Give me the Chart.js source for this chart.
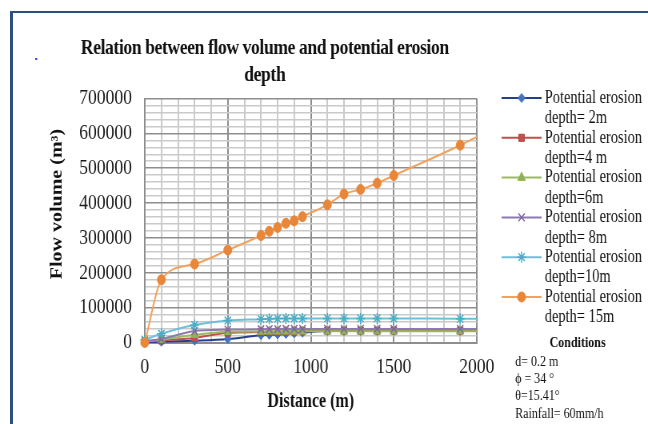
<!doctype html>
<html>
<head>
<meta charset="utf-8">
<script src="https://cdn.jsdelivr.net/npm/chart.js"></script>
<style>
  html, body { margin: 0; padding: 0; background: #fff; overflow: hidden; }
  .frame { position: absolute; left: 10px; top: 11px; width: 700px; height: 500px;
           border-left: 3px solid #2c4f7c; border-top: 2.5px solid #2c4f7c; }
  /* the reference picture is squeezed horizontally, so draw wide and scale down */
  .squeeze { position: absolute; left: 0; top: 0; width: 810px; height: 424px;
             transform: scaleX(0.8); transform-origin: 0 0; }
</style>
</head>
<body>
<div class="squeeze"><canvas id="chart"></canvas></div>
<div class="frame"></div>
<script>
const distance = [0, 100, 300, 500, 700, 750, 800, 850, 900, 950, 1100, 1200, 1300, 1400, 1500, 1900, 2000];
const depth2m  = [1000, 2000, 5000, 10000, 21000, 22000, 23000, 24500, 26000, 28000, 33000, 33000, 33000, 33000, 33000, 33000, 33000];
const depth4m  = [2000, 6000, 13000, 28000, 30000, 30500, 31000, 31500, 32000, 32500, 34000, 34000, 34000, 34000, 34000, 34000, 34000];
const depth6m  = [3000, 8000, 22000, 31000, 31500, 32000, 32000, 32000, 32000, 32000, 32500, 32500, 32500, 32500, 32500, 32500, 32500];
const depth8m  = [4000, 10000, 33000, 37000, 38000, 38500, 38500, 39000, 39000, 39000, 39000, 39000, 39000, 39000, 39000, 39000, 39000];
const depth10m = [8000, 25000, 50000, 63000, 67000, 68000, 68500, 69000, 69000, 69000, 69000, 69000, 69000, 69000, 69000, 68000, 68000];
const depth15m = [0, 180000, 225000, 265000, 307000, 319000, 330000, 342000, 349000, 361000, 395000, 426000, 439000, 457000, 479000, 566000, 590000];

const legendLabels = ['depth= 2m', 'depth=4 m', 'depth=6m', 'depth= 8m', 'depth=10m', 'depth= 15m'];
const titleLines = ['Relation between flow volume and potential erosion', 'depth'];
const yTitle = 'Flow volume (m\u00b3)';
const xTitle = 'Distance (m)';
const conditions = ['d= 0.2 m', '\u03d5 = 34 \u00b0', '\u03b8=15.41\u00b0', 'Rainfall= 60mm/h'];

const serif = '"Liberation Serif", "Times New Roman", serif';
const lastIndex = distance.length - 1;

function series(values, opts) {
  return {
    data: distance.map((x, i) => ({ x, y: values[i] })),
    borderWidth: 2,
    cubicInterpolationMode: 'monotone',
    clip: false,
    pointRadius: (ctx) => ctx.dataIndex === lastIndex ? 0 : opts.radius,
    pointHoverRadius: 0,
    ...opts,
  };
}

const datasets = [
  series(depth2m,  { borderColor: '#253f8a', pointBackgroundColor: '#4472c4', pointBorderColor: '#4472c4', pointBorderWidth: 1, pointStyle: 'rectRot', radius: 4.5, order: 6 }),
  series(depth4m,  { borderColor: '#c0504d', pointBackgroundColor: '#c0504d', pointBorderColor: '#b04440', pointBorderWidth: 1, pointStyle: 'rect', radius: 5, order: 5 }),
  series(depth6m,  { borderColor: '#9bbb59', pointBackgroundColor: '#8fb34c', pointBorderColor: '#8fb34c', pointBorderWidth: 1, pointStyle: 'triangle', radius: 5.5, order: 4 }),
  series(depth8m,  { borderColor: '#8c7ab0', pointBackgroundColor: '#8064a2', pointBorderColor: '#8064a2', pointBorderWidth: 1.5, pointStyle: 'crossRot', radius: 5.5, order: 3 }),
  series(depth10m, { borderColor: '#6cc0d8', pointBackgroundColor: '#4bacc6', pointBorderColor: '#4bacc6', pointBorderWidth: 1.5, pointStyle: 'star', radius: 5.5, order: 2 }),
  series(depth15m, { borderColor: '#f2a25c', pointBackgroundColor: '#e8873a', pointBorderColor: '#e8873a', pointBorderWidth: 1, pointStyle: 'circle', radius: 5, order: 1 }),
];

const decor = {
  id: 'decor',
  afterDraw(chart) {
    const ctx = chart.ctx;
    ctx.save();
    ctx.fillStyle = '#111';
    ctx.textAlign = 'center';
    ctx.textBaseline = 'middle';
    ctx.font = 'bold 22px ' + serif;
    ctx.letterSpacing = '-0.5px';
    titleLines.forEach((t, i) => ctx.fillText(t, 331, 48 + i * 27));
    ctx.letterSpacing = '0px';

    ctx.save();
    ctx.translate(72, 204);
    ctx.rotate(-Math.PI / 2);
    ctx.font = 'bold 20px ' + serif;
    ctx.fillText(yTitle, 0, 0);
    ctx.restore();

    // legend, two lines per entry
    chart.data.datasets.forEach((ds, i) => {
      const y = 98 + i * 39.8;
      ctx.strokeStyle = ds.borderColor;
      ctx.lineWidth = 2;
      ctx.beginPath();
      ctx.moveTo(627, y);
      ctx.lineTo(677, y);
      ctx.stroke();
      ctx.fillStyle = ds.pointBackgroundColor;
      ctx.strokeStyle = ds.pointBorderColor;
      ctx.lineWidth = ds.pointBorderWidth;
      Chart.helpers.drawPoint(ctx, { pointStyle: ds.pointStyle, radius: ds.radius, rotation: 0, borderWidth: ds.pointBorderWidth }, 652, y);
      ctx.fillStyle = '#111';
      ctx.textAlign = 'left';
      ctx.font = '18px ' + serif;
      ctx.fillText('Potential erosion', 681, y);
      ctx.fillText(legendLabels[i], 681, y + 20.5);
    });

    ctx.textAlign = 'center';
    ctx.font = 'bold 15px ' + serif;
    ctx.fillText('Conditions', 722, 343);
    ctx.textAlign = 'left';
    ctx.font = '15px ' + serif;
    [362, 379, 396, 414].forEach((y, i) => ctx.fillText(conditions[i], 644, y));

    ctx.fillStyle = '#3344dd';
    ctx.fillRect(44, 58, 2.5, 2);
    ctx.restore();
  }
};

new Chart(document.getElementById('chart'), {
  type: 'line',
  data: { datasets },
  plugins: [decor],
  options: {
    responsive: true,
    maintainAspectRatio: false,
    animation: false,
    events: [],
    layout: { padding: { top: 98.5, right: 214, bottom: 0, left: 0 } },
    plugins: { legend: { display: false }, title: { display: false }, tooltip: { enabled: false } },
    scales: {
      x: {
        type: 'linear', min: 0, max: 2000,
        afterFit: (s) => { s.height = 81.5; },
        ticks: {
          stepSize: 100, autoSkip: false, maxRotation: 0, padding: 12,
          color: '#1a1a1a', font: { family: serif, size: 22 },
          callback: (v) => v % 500 === 0 ? String(v) : '',
        },
        grid: {
          drawTicks: false, lineWidth: 2,
          color: (c) => c.tick && c.tick.value % 500 === 0 ? '#8e8e8e' : '#cacaca',
        },
        border: { color: '#8e8e8e', width: 2 },
        title: { display: true, text: xTitle, color: '#111', font: { family: serif, size: 20, weight: 'bold' }, padding: { top: 0, bottom: 10 } },
      },
      y: {
        min: 0, max: 700000,
        afterFit: (s) => { s.width = 181; },
        ticks: {
          stepSize: 20000, autoSkip: false, padding: 16,
          color: '#1a1a1a', font: { family: serif, size: 22 },
          callback: (v) => v % 100000 === 0 ? String(v) : '',
        },
        grid: {
          drawTicks: false, lineWidth: 1.5,
          color: (c) => c.tick && c.tick.value % 100000 === 0 ? '#8e8e8e' : '#cacaca',
        },
        border: { color: '#8e8e8e', width: 1.5 },
      },
    },
  },
});
</script>
</body>
</html>
